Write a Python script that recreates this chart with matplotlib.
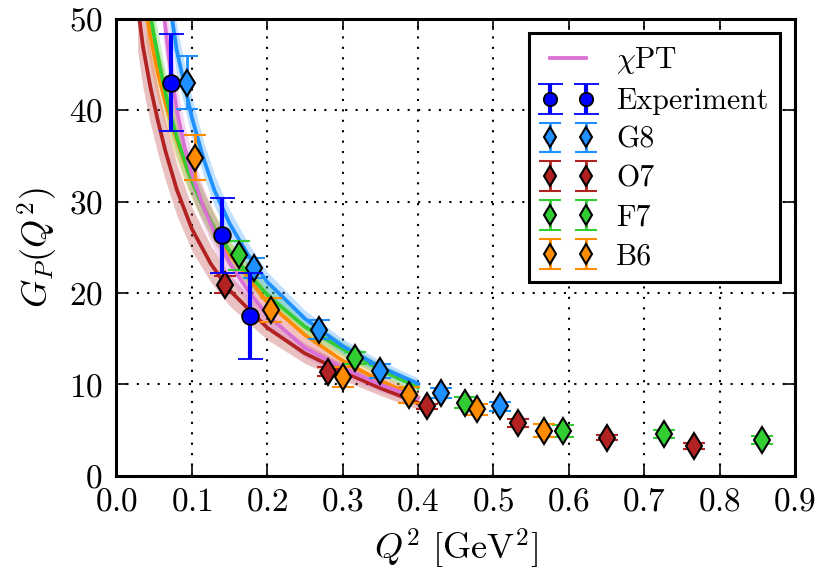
import numpy as np
import matplotlib
matplotlib.use("Agg")
import matplotlib.pyplot as plt
from matplotlib import rcParams

rcParams['font.family'] = 'serif'
rcParams['font.serif'] = ['cmr10', 'DejaVu Serif']
rcParams['mathtext.fontset'] = 'cm'
rcParams['axes.formatter.use_mathtext'] = True
rcParams['font.size'] = 24

# --- data -------------------------------------------------------------
exp_q = [0.072, 0.140, 0.177]
exp_g = [43.0, 26.3, 17.5]
exp_err = [5.3, 4.1, 4.7]

g8_q = [0.093, 0.182, 0.268, 0.349, 0.430, 0.509]
g8_g = [43.0, 22.7, 16.0, 11.5, 9.1, 7.6]
g8_err = [2.85, 1.1, 1.05, 0.75, 0.55, 0.5]

o7_q = [0.144, 0.281, 0.412, 0.532, 0.651, 0.766]
o7_g = [20.9, 11.4, 7.6, 5.8, 4.2, 3.3]
o7_err = [0.95, 0.5, 0.25, 0.4, 0.3, 0.3]

f7_q = [0.162, 0.316, 0.462, 0.592, 0.726, 0.856]
f7_g = [24.1, 12.9, 8.0, 4.95, 4.6, 3.95]
f7_err = [1.6, 0.65, 0.6, 0.65, 0.4, 0.43]

b6_q = [0.104, 0.205, 0.300, 0.388, 0.478, 0.567]
b6_g = [34.8, 18.1, 10.8, 8.85, 7.3, 4.95]
b6_err = [2.5, 1.3, 1.1, 0.85, 0.6, 0.72]

# fitted curves and band half widths
chpt_q = [0.062, 0.070, 0.080, 0.090, 0.100, 0.115, 0.130, 0.150, 0.175, 0.200, 0.250, 0.300, 0.350, 0.400]
chpt_g = [51.0, 45.5, 40.0, 36.0, 33.0, 29.5, 26.6, 23.3, 20.2, 17.6, 14.0, 11.8, 10.0, 8.5]
chpt_e = [3.5, 3.1, 2.8, 2.5, 2.3, 2.1, 1.9, 1.7, 1.5, 1.3, 1.1, 0.9, 0.8, 0.7]

g8c_q = [0.070, 0.080, 0.090, 0.100, 0.115, 0.130, 0.150, 0.175, 0.200, 0.250, 0.300, 0.350, 0.400]
g8c_g = [52.0, 46.5, 42.8, 39.2, 34.8, 31.2, 27.6, 24.1, 21.2, 17.2, 14.2, 11.9, 10.1]
g8c_e = [3.0, 2.7, 2.4, 2.2, 1.9, 1.7, 1.5, 1.3, 1.1, 0.9, 0.8, 0.7, 0.6]

o7c_q = [0.028, 0.035, 0.045, 0.055, 0.065, 0.080, 0.100, 0.125, 0.150, 0.200, 0.250, 0.300, 0.350, 0.400]
o7c_g = [51.5, 47.0, 42.5, 38.8, 35.5, 31.3, 27.0, 23.2, 20.3, 16.2, 13.4, 11.4, 9.6, 8.0]
o7c_e = [5.0, 4.5, 4.0, 3.6, 3.2, 2.8, 2.4, 2.0, 1.7, 1.3, 1.1, 0.9, 0.8, 0.7]

f7c_q = [0.044, 0.050, 0.060, 0.070, 0.080, 0.095, 0.110, 0.130, 0.155, 0.200, 0.250, 0.300, 0.350, 0.400]
f7c_g = [51.0, 48.0, 43.8, 40.0, 37.0, 33.3, 30.3, 27.0, 24.0, 19.8, 16.3, 13.9, 11.6, 9.7]
f7c_e = [3.0, 2.8, 2.5, 2.3, 2.1, 1.9, 1.7, 1.5, 1.3, 1.1, 0.9, 0.8, 0.7, 0.6]

b6c_q = [0.039, 0.045, 0.055, 0.065, 0.075, 0.090, 0.105, 0.125, 0.150, 0.200, 0.250, 0.300, 0.350, 0.400]
b6c_g = [51.0, 48.0, 44.0, 40.8, 38.0, 34.3, 31.3, 27.8, 24.2, 19.0, 15.4, 12.6, 10.4, 8.6]
b6c_e = [3.5, 3.2, 2.9, 2.6, 2.4, 2.1, 1.9, 1.7, 1.5, 1.2, 1.0, 0.9, 0.8, 0.7]

COLORS = {
    'chpt': '#da70d6',
    'exp': '#0000ff',
    'G8': '#1e90ff',
    'O7': '#b22222',
    'F7': '#32cd32',
    'B6': '#ff8c00',
}

fig = plt.figure(figsize=(8.18, 5.73), dpi=100)
ax = fig.add_axes([0.1424, 0.1693, 0.8295, 0.7984])

curves = [
    (b6c_q, b6c_g, b6c_e, COLORS['B6']),
    (f7c_q, f7c_g, f7c_e, COLORS['F7']),
    (o7c_q, o7c_g, o7c_e, COLORS['O7']),
    (g8c_q, g8c_g, g8c_e, COLORS['G8']),
    (chpt_q, chpt_g, chpt_e, COLORS['chpt']),
]
for q, g, e, c in curves:
    q = np.array(q); g = np.array(g); e = np.array(e)
    ax.fill_between(q, g - e, g + e, color=c, alpha=0.28, lw=0, zorder=1)
for q, g, e, c in curves:
    ax.plot(q, g, color=c, lw=2.7, zorder=2)

h_chpt, = ax.plot([], [], color=COLORS['chpt'], lw=2.7)

h_exp = ax.errorbar(exp_q, exp_g, yerr=exp_err, fmt='o', color=COLORS['exp'],
                    ms=12, mec='black', mew=1.3, elinewidth=3, capsize=9,
                    capthick=2, zorder=5)

handles = [h_chpt, h_exp]
labels = [r'$\chi$PT', 'Experiment']
for name, q, g, e in [('G8', g8_q, g8_g, g8_err), ('O7', o7_q, o7_g, o7_err),
                      ('F7', f7_q, f7_g, f7_err), ('B6', b6_q, b6_g, b6_err)]:
    h = ax.errorbar(q, g, yerr=e, fmt='d', color=COLORS[name], mfc=COLORS[name],
                    mec='black', mew=1.5, ms=13, ecolor=COLORS[name], elinewidth=2,
                    capsize=8, capthick=2, zorder=4)
    handles.append(h)
    labels.append(name)

ax.set_xlim(0.0, 0.9)
ax.set_ylim(0, 50)
ax.set_xticks(np.arange(0, 0.91, 0.1))
ax.set_yticks(np.arange(0, 51, 10))
ax.grid(True, color='black', linestyle=(0, (1, 4)), linewidth=1.5, zorder=0)
ax.set_axisbelow(True)

for sp in ax.spines.values():
    sp.set_linewidth(2.2)
ax.tick_params(direction='in', top=True, right=True, length=8, width=1.2,
               labelsize=24)
ax.tick_params(axis='x', pad=8)
ax.tick_params(axis='y', pad=10)

ax.set_xlabel(r'$Q^2\ [\mathrm{GeV}^2]$', fontsize=26, labelpad=8)
ax.set_ylabel(r'$G_P(Q^2)$', fontsize=26, labelpad=6)

leg = ax.legend(handles, labels, loc='upper right', numpoints=2, fancybox=False,
                edgecolor='black', framealpha=1, handlelength=1.8,
                handletextpad=0.7, labelspacing=0.38, borderaxespad=0.5,
                markerscale=0.8, fontsize=21.5)
leg.get_frame().set_linewidth(2.2)

fig.savefig('out.png', dpi=100)
